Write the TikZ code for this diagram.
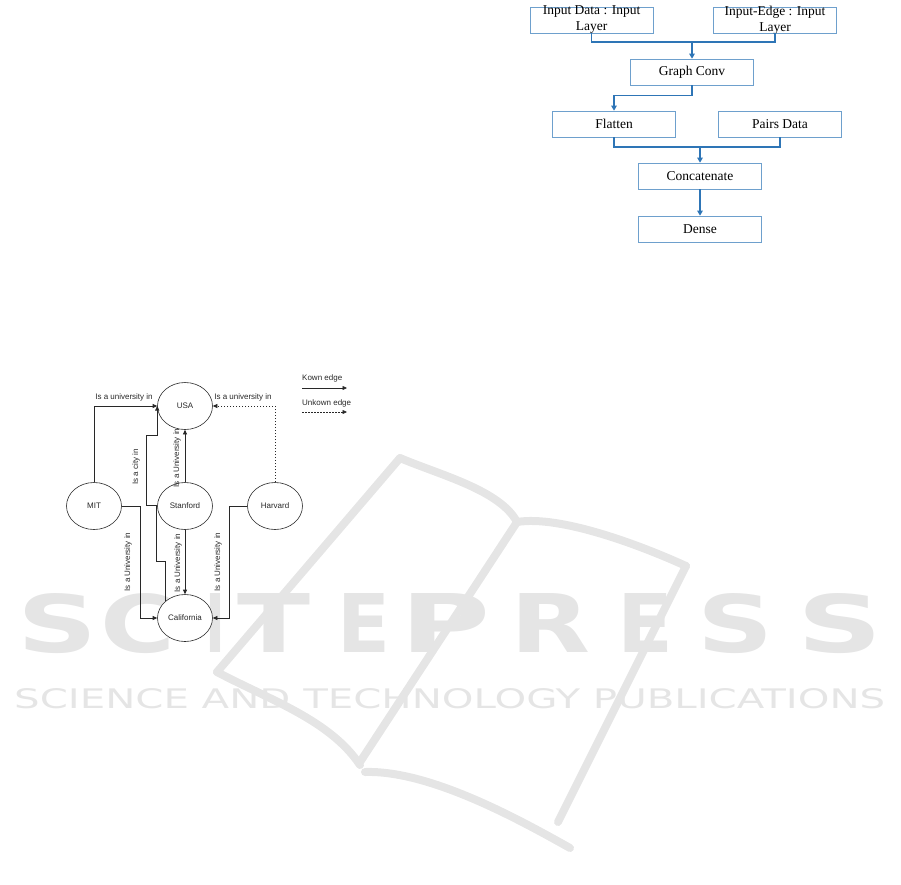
\documentclass[tikz,border=0pt]{standalone}
\usepackage{graphicx}
\usepackage{fontspec}
\setmainfont{Liberation Serif}
\newfontfamily\arialf{Liberation Sans}
\newfontfamily\wmf{DejaVu Sans}
\usetikzlibrary{arrows.meta,shapes.geometric}
\definecolor{boxblue}{RGB}{110,160,205}
\definecolor{linkblue}{RGB}{46,117,182}
\definecolor{wmgray}{RGB}{229,229,229}
\definecolor{ink}{RGB}{40,40,40}
\newcommand\wmletter[3]{\makebox[#1pt][l]{\resizebox{#2pt}{59pt}{\wmf\bfseries #3}}}
\begin{document}
\begin{tikzpicture}[x=1pt,y=-1pt,
 nnbox/.style={draw=boxblue,line width=0.7pt,minimum width=123pt,minimum height=26pt,inner sep=0pt},
 nntext/.style={align=center,inner sep=0pt,font=\fontsize{13.5}{16}\selectfont},
 flow/.style={draw=linkblue,line width=1.3pt,-{Triangle[length=5pt,width=5.5pt]}},
 flowjoin/.style={draw=linkblue,line width=1.3pt},
 ent/.style={draw=ink,fill=white,ellipse,line width=0.6pt,minimum width=55pt,minimum height=47pt,inner sep=0pt,font=\arialf\fontsize{8}{9}\selectfont,text=ink},
 rel/.style={draw=ink,line width=0.6pt,-{Triangle[length=4.5pt,width=4pt]}},
 unk/.style={dash pattern=on 1.5pt off 1.5pt},
 rellab/.style={font=\arialf\fontsize{8}{9}\selectfont,text=ink,inner sep=0pt},
 wm/.style={draw=wmgray,line width=8pt,line cap=round,line join=round},
 wmtext/.style={inner sep=0pt,anchor=north west,text=wmgray}
]
\path[use as bounding box] (0,0) rectangle (901,884);

% ---- watermark ----
\draw[wm] (400,458) .. controls (440,475) and (500,490) .. (517,522);
\draw[wm] (517,522) .. controls (560,515) and (640,545) .. (686,566);
\draw[wm] (686,566) -- (558,822);
\draw[wm] (400,458) -- (217,672);
\draw[wm] (217,672) .. controls (270,700) and (330,720) .. (360,765);
\draw[wm] (517,522) -- (360,762);
\draw[wm] (365,772) .. controls (430,770) and (520,820) .. (570,848);
\node[wmtext] (wm1) at (17,593) {\wmletter{83}{80}{S}\wmletter{105}{75}{C}\wmletter{32}{20}{I}\wmletter{100}{73}{T}\wmletter{63}{53}{E}\wmletter{110}{90}{P}\wmletter{107}{80}{R}\wmletter{80}{56}{E}\wmletter{100}{76}{S}\wmletter{85}{85}{S}};
\node[wmtext] (wm2) at (14,688) {\resizebox{871pt}{20pt}{\wmf SCIENCE AND TECHNOLOGY PUBLICATIONS}};

% ---- network layers ----
\node[nnbox] (in1) at (591.5,20) {};
\node[nntext] (in1t) at (591.5,20) {Input Data : Input\\Layer};
\node[nnbox] (in2) at (775,20) {};
\node[nntext] (in2t) at (775,20) {Input-Edge : Input\\Layer};
\node[nnbox,nntext] (gc) at (692,72) {Graph Conv};
\node[nnbox,nntext] (fl) at (614,124) {Flatten};
\node[nnbox,nntext] (pd) at (780,124) {Pairs Data};
\node[nnbox,nntext] (cc) at (700,176) {Concatenate};
\node[nnbox,nntext] (de) at (700,229) {Dense};

\coordinate (j1) at (692,42);
\draw[flowjoin] (in1.south) |- (j1) -| (in2.south);
\draw[flow] (j1) -- (gc.north);
\draw[flow] (gc.south) -- ++(0,10) -| (fl.north);
\coordinate (j2) at (700,147);
\draw[flowjoin] (fl.south) |- (j2) -| (pd.south);
\draw[flow] (j2) -- (cc.north);
\draw[flow] (cc.south) -- (de.north);

% ---- knowledge graph ----
\node[ent] (usa) at (185,406) {USA};
\node[ent] (mit) at (94,506) {MIT};
\node[ent] (stan) at (185,506) {Stanford};
\node[ent] (harv) at (275,506) {Harvard};
\node[ent] (cal) at (185,618) {California};

\draw[rel] (mit.north) |- (usa.west);
\node[rellab] (l1) at (124,397) {Is a university in};
\draw[rel,unk] (harv.north) |- (usa.east);
\node[rellab] (l2) at (243,397) {Is a university in};
\draw[rel] (stan.north) -- (usa.south);
\node[rellab,rotate=90] (l3) at (177,458) {Is a University in};
\draw[rel] (stan.south) -- (cal.north);
\node[rellab,rotate=90] (l4) at (178,563) {Is a University in};
\draw[rel] (mit.east) -- (140,506) |- (cal.west);
\node[rellab,rotate=90] (l5) at (128,562) {Is a University in};
\draw[rel] (harv.west) -- (229,506) |- (cal.east);
\node[rellab,rotate=90] (l6) at (218,562) {Is a University in};
\draw[rel] (cal.140) |- (156,561) -- (156,505) -- (146,505) -- (146,435) -| (usa.west);
\node[rellab,rotate=90] (l7) at (136,467) {Is a city in};

% legend
\node[rellab,anchor=west] (kl) at (302,378) {Kown edge};
\coordinate (k1) at (302,388);
\coordinate (k2) at (347,388);
\draw[rel] (k1) -- (k2);
\node[rellab,anchor=west] (ul) at (302,403) {Unkown edge};
\coordinate (u1) at (302,412);
\coordinate (u2) at (347,412);
\draw[rel,unk] (u1) -- (u2);
\end{tikzpicture}
\end{document}
